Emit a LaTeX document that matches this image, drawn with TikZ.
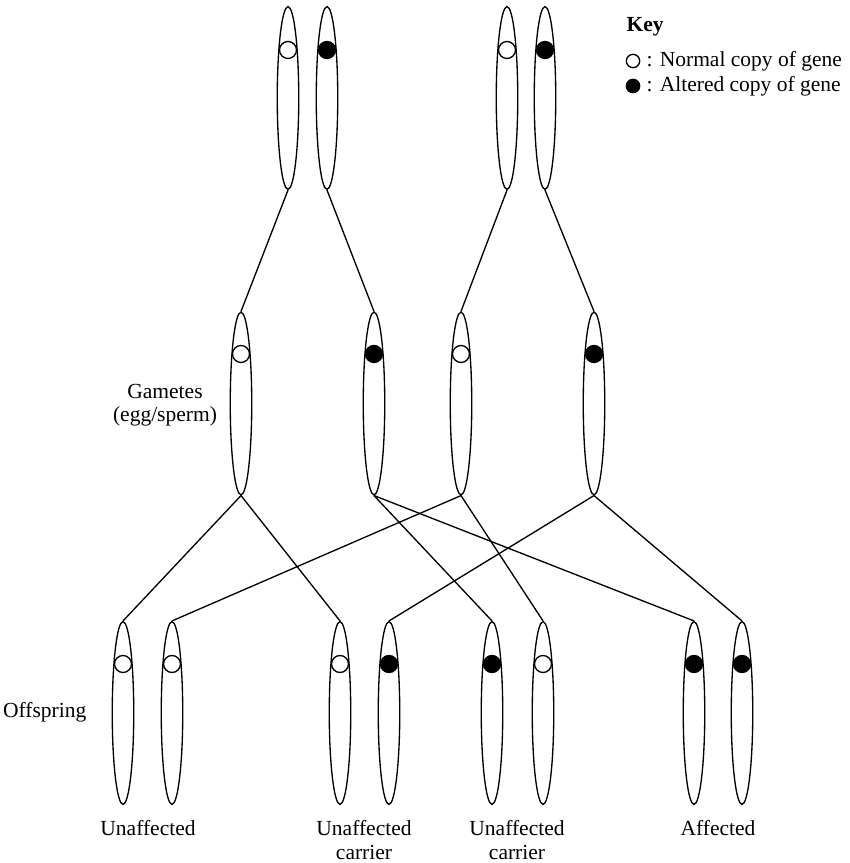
\documentclass[tikz,border=0pt]{standalone}
\usepackage{fontspec}
\setmainfont{Liberation Serif}
\usetikzlibrary{shapes.geometric}

\begin{document}
\begin{tikzpicture}[x=0.465pt, y=-0.465pt, line width=0.62pt,
  chrom/.style={draw, ellipse, inner sep=0pt, minimum width=10pt, minimum height=85pt},
  normal/.style={draw, circle, fill=white, inner sep=0pt, minimum size=7.9pt},
  altered/.style={normal, fill=black},
  keydot/.style={draw, circle, inner sep=0pt, minimum size=6.2pt},
  notetext/.style={font=\fontsize{10}{10.8}\selectfont, align=center, inner sep=0pt}]
\useasboundingbox (0,0) rectangle (849,863);

% parents
\node[chrom] (p1) at (288,98) {};
\node[chrom] (p2) at (327,98) {};
\node[chrom] (p3) at (507,98) {};
\node[chrom] (p4) at (545,98) {};
\node[normal] (p1g) at (288,50) {};
\node[altered] (p2g) at (327,50) {};
\node[normal] (p3g) at (507,50) {};
\node[altered] (p4g) at (545,50) {};

% gametes
\node[chrom] (g1) at (241,403.5) {};
\node[chrom] (g2) at (374,403.5) {};
\node[chrom] (g3) at (461,403.5) {};
\node[chrom] (g4) at (594,403.5) {};
\node[normal] (g1g) at (241,354) {};
\node[altered] (g2g) at (374,354) {};
\node[normal] (g3g) at (461,354) {};
\node[altered] (g4g) at (594,354) {};
\node[notetext] (gam) at (165,405) {Gametes\\(egg/sperm)};

% offspring
\node[chrom] (o1) at (123,713) {};
\node[chrom] (o2) at (172,713) {};
\node[chrom] (o3) at (340,713) {};
\node[chrom] (o4) at (389,713) {};
\node[chrom] (o5) at (492,713) {};
\node[chrom] (o6) at (543,713) {};
\node[chrom] (o7) at (694,713) {};
\node[chrom] (o8) at (742,713) {};
\node[normal] (o1g) at (123,664) {};
\node[normal] (o2g) at (172,664) {};
\node[normal] (o3g) at (340,664) {};
\node[altered] (o4g) at (389,664) {};
\node[altered] (o5g) at (492,664) {};
\node[normal] (o6g) at (543,664) {};
\node[altered] (o7g) at (694,664) {};
\node[altered] (o8g) at (742,664) {};
\node[notetext, anchor=base east] (off) at (87,717) {Offspring};

\node[notetext, anchor=north] (r1) at (148,820) {Unaffected};
\node[notetext, anchor=north] (r2) at (364,820) {Unaffected\\carrier};
\node[notetext, anchor=north] (r3) at (517,820) {Unaffected\\carrier};
\node[notetext, anchor=north] (r4) at (718,820) {Affected};

% lines
\draw (p1.south) -- (g1.north);
\draw (p2.south) -- (g2.north);
\draw (p3.south) -- (g3.north);
\draw (p4.south) -- (g4.north);
\draw (g1.south) -- (o1.north);
\draw (g1.south) -- (o3.north);
\draw (g2.south) -- (o5.north);
\draw (g2.south) -- (o7.north);
\draw (g3.south) -- (o2.north);
\draw (g3.south) -- (o6.north);
\draw (g4.south) -- (o4.north);
\draw (g4.south) -- (o8.north);

% key
\node[notetext, anchor=base west] (key) at (626,32) {\bfseries Key};
\node[keydot] (k1) at (633,61) {};
\node[keydot, fill=black] (k2) at (633,86) {};
\node[notetext, anchor=west] (k1t) at (646,61) {: Normal copy of gene};
\node[notetext, anchor=west] (k2t) at (646,86) {: Altered copy of gene};
\end{tikzpicture}
\end{document}
